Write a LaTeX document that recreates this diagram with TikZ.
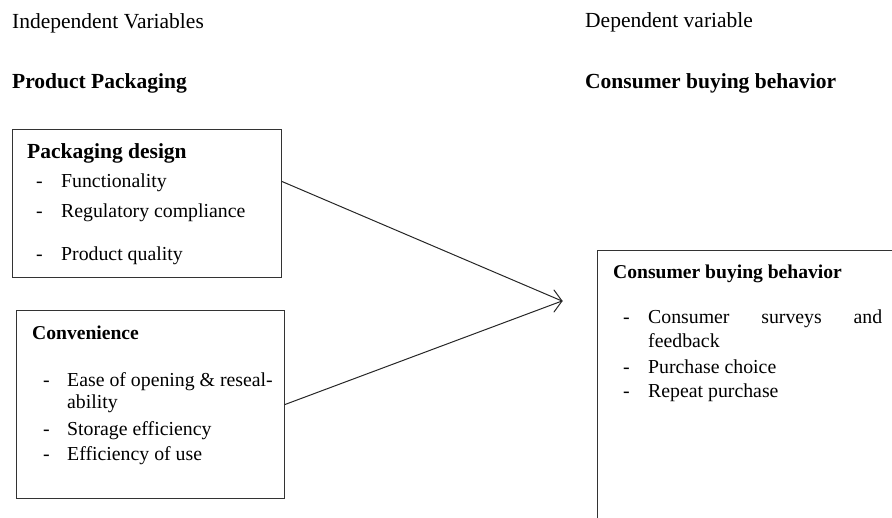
\documentclass[tikz,border=0pt]{standalone}
\usepackage{fontspec}
\setmainfont{Liberation Serif}
\tikzset{>=stealth}
\tikzset{
  box/.style={draw=black!80, line width=1pt, anchor=north west, inner sep=0pt},
  vartext/.style={anchor=base west, inner sep=0pt, font=\fontsize{21.5}{24}\selectfont},
  vartitle/.style={anchor=base west, inner sep=0pt, font=\fontsize{21.5}{24}\selectfont\bfseries},
  boxhead/.style={anchor=base west, inner sep=0pt, font=\fontsize{19.6}{23}\selectfont\bfseries},
  itemtext/.style={anchor=base west, inner sep=0pt, font=\fontsize{19.8}{23}\selectfont},
  conn/.style={draw=black!85, line width=1pt, line cap=round, line join=round}
}
\newcommand{\dashitem}[2][25pt]{\makebox[#1][l]{-}#2}

\begin{document}
\begin{tikzpicture}[x=1pt, y=-1pt]
\clip (0,0) rectangle (892,517);
\node[vartext] (indep) at (12,28) {Independent Variables};
\node[vartext] (dep) at (585,27) {Dependent variable};
\node[vartitle] (prodpack) at (12,88) {Product Packaging};
\node[vartitle] (consbuy) at (585,88) {Consumer buying behavior};

\node[box, minimum width=269pt, minimum height=148pt] (design) at (12,129) {};
\node[vartitle] (designhead) at (27,158) {Packaging design};
\node[itemtext] (func) at (36,187) {\dashitem{Functionality}};
\node[itemtext] (regul) at (36,217) {\dashitem{Regulatory compliance}};
\node[itemtext] (qual) at (36,260) {\dashitem{Product quality}};

\node[box, minimum width=268pt, minimum height=188pt] (conv) at (16,310) {};
\node[boxhead] (convhead) at (32,339) {Convenience};
\node[itemtext] (ease) at (43,386) {\dashitem[24pt]{Ease of opening \& reseal-}};
\node[itemtext] (abil) at (67,408) {ability};
\node[itemtext] (store) at (43,435) {\dashitem[24pt]{Storage efficiency}};
\node[itemtext] (effic) at (43,460) {\dashitem[24pt]{Efficiency of use}};

\node[box, minimum width=320pt, minimum height=290pt] (behav) at (597,250) {};
\node[boxhead] (behavhead) at (613,278) {Consumer buying behavior};
\node[itemtext] (survey) at (623,323) {\dashitem{\makebox[234pt][s]{Consumer surveys and}}};
\node[itemtext] (feed) at (648,347) {feedback};
\node[itemtext] (choice) at (623,373) {\dashitem{Purchase choice}};
\node[itemtext] (repeat) at (623,397) {\dashitem{Repeat purchase}};

\coordinate (meet) at (562,301);
\draw[conn] ([yshift=22pt]design.east) -- (meet);
\draw[conn] (conv.east) -- (meet);
\draw[conn] (meet) ++(-8,-11) -- (meet) -- ++(-8,11);
\end{tikzpicture}
\end{document}
